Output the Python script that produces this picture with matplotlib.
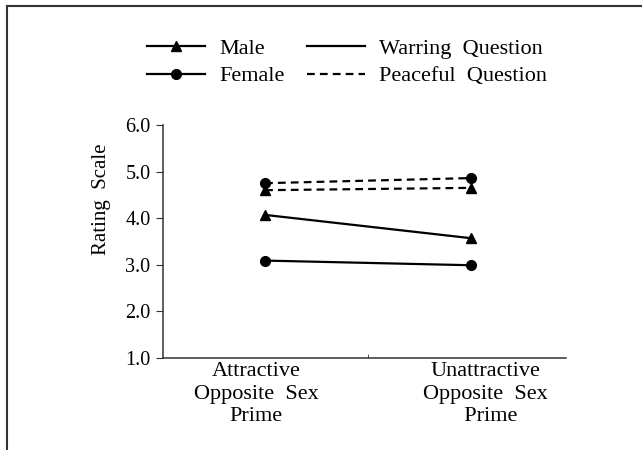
import matplotlib.pyplot as plt
from matplotlib.lines import Line2D
from matplotlib.transforms import ScaledTranslation

plt.rcParams['font.family'] = ['Liberation Serif', 'DejaVu Serif']

primes = ['Attractive\nOpposite  Sex\nPrime', 'Unattractive\nOpposite  Sex\n  Prime']
male_warring = [4.07, 3.57]
male_peaceful = [4.60, 4.65]
female_warring = [3.09, 2.99]
female_peaceful = [4.75, 4.86]

x = list(range(len(primes)))
fig = plt.figure(figsize=(6.42, 4.5), dpi=100)
ax = fig.add_axes([0.254, 0.2044, 0.628, 0.518])

lw = 1.6
dash = (0, (3.5, 2.3))
ax.plot(x, male_warring, color='black', lw=lw, marker='^', ms=7.5)
ax.plot(x, male_peaceful, color='black', lw=lw, ls=dash, marker='^', ms=7.5)
ax.plot(x, female_warring, color='black', lw=lw, marker='o', ms=7)
ax.plot(x, female_peaceful, color='black', lw=lw, ls=dash, marker='o', ms=7)

ax.set_xlim(-0.495, 1.462)
ax.set_ylim(1.0, 6.0)
ax.set_yticks([1, 2, 3, 4, 5, 6])
ax.set_yticklabels(['%.1f' % v for v in [1, 2, 3, 4, 5, 6]])
ax.set_xticks(x)
ax.set_xticklabels(primes, fontsize=16, linespacing=1.25)
ax.set_xticks([0.5], minor=True)
ax.tick_params(axis='x', which='major', length=0, pad=3)
ax.tick_params(axis='x', which='minor', length=3, direction='in', color='#333333')
ax.tick_params(axis='y', labelsize=14.5, length=5, color='#333333', pad=4)
for lab, dx in zip(ax.get_xticklabels(), [-9, 14]):
    lab.set_transform(lab.get_transform() + ScaledTranslation(dx / 100, 0, fig.dpi_scale_trans))

ax.set_ylabel('Rating  Scale', fontsize=15)
ax.yaxis.set_label_coords(-0.128, 0.68)
for s in ['top', 'right']:
    ax.spines[s].set_visible(False)
for s in ['left', 'bottom']:
    ax.spines[s].set_color('#333333')
    ax.spines[s].set_linewidth(1.1)

handles = [
    Line2D([], [], color='black', lw=lw, marker='^', ms=7.5),
    Line2D([], [], color='black', lw=lw, marker='o', ms=7),
    Line2D([], [], color='black', lw=lw),
    Line2D([], [], color='black', lw=lw, ls=dash),
]
labels = ['Male', 'Female', 'Warring  Question', 'Peaceful  Question']
fig.legend(handles, labels, ncol=2, loc='upper left', bbox_to_anchor=(0.229, 0.914),
           frameon=False, fontsize=16, handlelength=2.6, handletextpad=0.65,
           columnspacing=1.0, labelspacing=0.3, borderaxespad=0, borderpad=0)

# figure frame (top and left edges)
fig.add_artist(Line2D([0.011, 1.0], [0.986, 0.986], transform=fig.transFigure, color='#333333', lw=1.5))
fig.add_artist(Line2D([0.011, 0.011], [0.0, 0.986], transform=fig.transFigure, color='#333333', lw=1.5))

fig.savefig('out.png', dpi=100)
